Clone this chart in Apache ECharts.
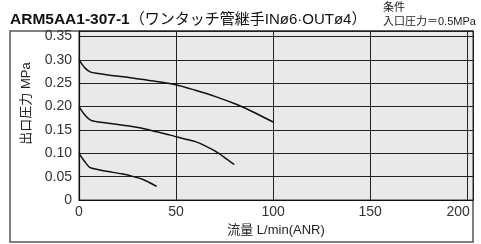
<!DOCTYPE html>
<html><head><meta charset="utf-8">
<script src="https://cdn.jsdelivr.net/npm/echarts@6/dist/echarts.min.js"></script>
<style>html,body{margin:0;padding:0;background:#fff}#c{width:481px;height:244px}</style>
</head><body><div id="c"></div>
<script>
const titleMain = 'ARM5AA1-307-1';
const titleSub = '（ワンタッチ管継手INø6·OUTø4）';
const condLines = ['条件', '入口圧力＝0.5MPa'];
const xName = '流量 L/min(ANR)';
const yName = '出口圧力 MPa';
const xTicks = [0, 50, 100, 150, 200];
const yTicks = [0, 0.05, 0.10, 0.15, 0.20, 0.25, 0.30, 0.35];
const curve030 = [[0,0.300],[3,0.283],[6,0.274],[10,0.271],[15,0.268],[25,0.263],[32,0.2585],[40,0.254],[50,0.247],[60,0.235],[70,0.222],[81,0.205],[90,0.188],[100,0.167]];
const curve020 = [[0,0.200],[3,0.182],[6,0.171],[10,0.167],[15,0.1645],[25,0.159],[32,0.154],[40,0.146],[47,0.139],[55,0.130],[60,0.125],[65,0.116],[70,0.105],[75,0.091],[80,0.076]];
const curve010 = [[0,0.100],[3,0.082],[5.5,0.070],[10,0.065],[15,0.061],[22,0.056],[29,0.049],[33,0.044],[36,0.038],[40,0.029]];

const FONT = 'Liberation Sans, Noto Sans CJK JP, sans-serif';
const chart = echarts.init(document.getElementById('c'), null, {renderer: 'canvas'});
const lineSeries = (data) => ({
  type: 'line', data: data, smooth: 0.25, symbol: 'none',
  lineStyle: {color: '#111', width: 1.5}, z: 5
});
chart.setOption({
  animation: false,
  textStyle: {fontFamily: FONT},
  title: [
    {left: 10, top: 10, padding: 0, text: '{b|' + titleMain + '}{n|' + titleSub + '}',
     textStyle: {rich: {
       b: {fontFamily: FONT, fontWeight: 'bold', fontSize: 15.5, color: '#111', lineHeight: 19},
       n: {fontFamily: FONT, fontWeight: 'normal', fontSize: 15, color: '#111', lineHeight: 19}
     }}},
    {left: 383, top: 1, padding: 0, text: condLines.join('\n'),
     textStyle: {fontFamily: FONT, fontSize: 11, fontWeight: 'normal', color: '#222', lineHeight: 14}}
  ],
  graphic: [
    {type: 'rect', z: -10, shape: {x: 10, y: 31, width: 463, height: 211},
     style: {fill: '#fff', stroke: '#555', lineWidth: 1.5}}
  ],
  grid: {left: 79, top: 31, right: 8, bottom: 44, show: true,
         backgroundColor: '#e8e9e8', borderColor: '#333', borderWidth: 1},
  xAxis: {
    type: 'value', min: 0, max: 203, interval: 50,
    name: xName, nameLocation: 'middle', nameGap: 24,
    nameTextStyle: {fontFamily: FONT, fontSize: 13, color: '#222'},
    axisLine: {show: true, lineStyle: {color: '#111', width: 1.2}},
    axisTick: {show: false},
    axisLabel: {showMaxLabel: false, margin: 5, fontFamily: FONT, fontSize: 14, color: '#333',
      formatter: v => (xTicks.indexOf(v) < 0 ? '' : (v === 200 ? '{e|200}' : String(v))),
      rich: {e: {fontFamily: FONT, fontSize: 14, color: '#333', padding: [0, 18, 0, 0]}}},
    splitLine: {show: true, lineStyle: {color: '#222', width: 1}}
  },
  yAxis: {
    type: 'value', min: 0, max: 0.362, interval: 0.05,
    name: yName, nameLocation: 'middle', nameGap: 46,
    nameTextStyle: {fontFamily: FONT, fontSize: 13, color: '#222', padding: [0, 0, 0, 24]},
    axisLine: {show: true, lineStyle: {color: '#111', width: 1.2}},
    axisTick: {show: false},
    axisLabel: {showMaxLabel: false, margin: 7, fontFamily: FONT, fontSize: 14, color: '#333',
      formatter: v => {
        const t = yTicks.find(k => Math.abs(k - v) < 1e-6);
        if (t === undefined) return '';
        return t === 0 ? '0' : t.toFixed(2);
      }},
    splitLine: {show: true, lineStyle: {color: '#222', width: 1}}
  },
  series: [lineSeries(curve030), lineSeries(curve020), lineSeries(curve010)]
});
</script></body></html>
